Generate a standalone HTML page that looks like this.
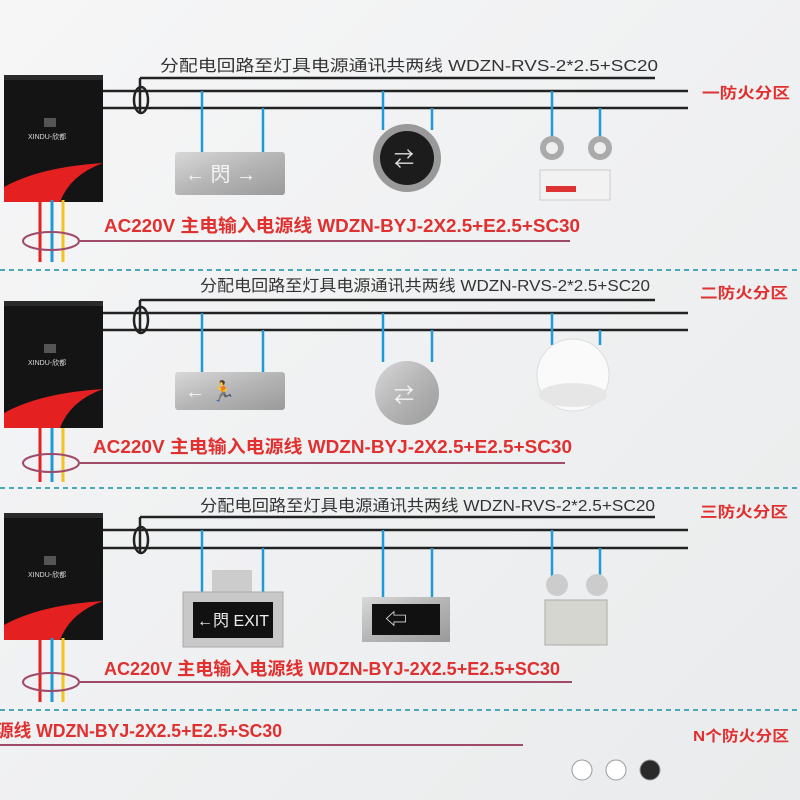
<!DOCTYPE html>
<html><head><meta charset="utf-8"><style>
body{margin:0;width:800px;height:800px;overflow:hidden;background:#eef0f1;font-family:"Liberation Sans","Noto Sans CJK SC",sans-serif}
svg{display:block}
.t{font-size:16px;fill:#333}
.r{font-size:18px;fill:#e03030;font-weight:bold}
.z{font-size:15px;fill:#e03030;font-weight:bold}
</style></head><body>
<svg width="800" height="800" viewBox="0 0 800 800">
<defs>
<linearGradient id="bg" x1="0" y1="0" x2="1" y2="1"><stop offset="0" stop-color="#f6f6f7"/><stop offset="1" stop-color="#e9ebec"/></linearGradient>
<linearGradient id="sil" x1="0" y1="0" x2="1" y2="1"><stop offset="0" stop-color="#d8d8d8"/><stop offset=".5" stop-color="#b5b5b5"/><stop offset="1" stop-color="#9a9a9a"/></linearGradient>
<g id="box">
<rect x="4" y="0" width="99" height="127" fill="#141414"/>
<rect x="4" y="0" width="99" height="5" fill="#2a2a2a"/>
<rect x="44" y="43" width="12" height="9" fill="#555"/>
<text x="28" y="64" font-size="7" fill="#ddd">XINDU-欣都</text>
<path d="M4 127 L4 112 Q40 92 103 88 Q70 100 60 127 Z" fill="#e52020"/>
</g>
</defs>
<rect width="800" height="800" fill="url(#bg)"/>

<!-- Section 1 -->
<text class="t" x="160" y="71" textLength="498" lengthAdjust="spacingAndGlyphs">分配电回路至灯具电源通讯共两线 WDZN-RVS-2*2.5+SC20</text>
<g stroke="#222" stroke-width="2.5" fill="none">
<line x1="140" y1="78" x2="655" y2="78"/><line x1="140" y1="78" x2="140" y2="112"/>
<line x1="103" y1="91" x2="688" y2="91"/><line x1="103" y1="108" x2="688" y2="108"/>
<ellipse cx="141" cy="100" rx="7" ry="13"/>
</g>
<use href="#box" y="75"/>
<g stroke="#1e9ad6" stroke-width="2.5"><line x1="202" y1="91" x2="202" y2="152"/><line x1="263" y1="108" x2="263" y2="152"/><line x1="383" y1="91" x2="383" y2="130"/><line x1="432" y1="108" x2="432" y2="130"/><line x1="552" y1="91" x2="552" y2="137"/><line x1="600" y1="108" x2="600" y2="137"/></g>
<rect x="175" y="152" width="110" height="43" rx="3" fill="url(#sil)"/><text x="185" y="181" font-size="20" fill="#f4f4f4">← 閃 →</text>
<circle cx="407" cy="158" r="34" fill="#999"/><circle cx="407" cy="158" r="27" fill="#1c1c1c"/><text x="394" y="166" font-size="20" fill="#ddd">⇄</text>
<circle cx="552" cy="148" r="12" fill="#aaa"/><circle cx="552" cy="148" r="6" fill="#eee"/><circle cx="600" cy="148" r="12" fill="#aaa"/><circle cx="600" cy="148" r="6" fill="#eee"/>
<rect x="540" y="170" width="70" height="30" fill="#f2f2f2" stroke="#ccc"/><rect x="546" y="186" width="30" height="6" fill="#d33"/>
<text class="r" x="104" y="232" textLength="476" lengthAdjust="spacingAndGlyphs">AC220V 主电输入电源线 WDZN-BYJ-2X2.5+E2.5+SC30</text>
<line x1="80" y1="241" x2="570" y2="241" stroke="#a04a6a" stroke-width="2"/>
<g stroke-width="3"><line x1="40" y1="200" x2="40" y2="262" stroke="#e52020"/><line x1="52" y1="200" x2="52" y2="262" stroke="#1e9ad6"/><line x1="63" y1="200" x2="63" y2="262" stroke="#f3c321"/></g>
<ellipse cx="51" cy="241" rx="28" ry="9" fill="none" stroke="#a04a6a" stroke-width="2"/>
<text class="z" x="702" y="98" textLength="88" lengthAdjust="spacingAndGlyphs">一防火分区</text>
<line x1="0" y1="270" x2="800" y2="270" stroke="#4aa8b8" stroke-width="2" stroke-dasharray="5,4"/>

<!-- Section 2 -->
<text class="t" x="200" y="291" textLength="450" lengthAdjust="spacingAndGlyphs">分配电回路至灯具电源通讯共两线 WDZN-RVS-2*2.5+SC20</text>
<g stroke="#222" stroke-width="2.5" fill="none">
<line x1="140" y1="300" x2="655" y2="300"/><line x1="140" y1="300" x2="140" y2="334"/>
<line x1="103" y1="313" x2="688" y2="313"/><line x1="103" y1="330" x2="688" y2="330"/>
<ellipse cx="141" cy="320" rx="7" ry="13"/>
</g>
<use href="#box" y="301"/>
<g stroke="#1e9ad6" stroke-width="2.5"><line x1="202" y1="313" x2="202" y2="372"/><line x1="263" y1="330" x2="263" y2="372"/><line x1="383" y1="313" x2="383" y2="362"/><line x1="432" y1="330" x2="432" y2="362"/><line x1="552" y1="313" x2="552" y2="345"/><line x1="600" y1="330" x2="600" y2="345"/></g>
<rect x="175" y="372" width="110" height="38" rx="3" fill="url(#sil)"/><text x="185" y="398" font-size="20" fill="#f4f4f4">← 🏃 </text>
<circle cx="407" cy="393" r="32" fill="url(#sil)"/><text x="394" y="402" font-size="20" fill="#f4f4f4">⇄</text>
<ellipse cx="573" cy="375" rx="36" ry="36" fill="#fafafa" stroke="#ddd"/><ellipse cx="573" cy="395" rx="34" ry="12" fill="#e6e6e6"/>
<text class="r" x="93" y="453" textLength="479" lengthAdjust="spacingAndGlyphs">AC220V 主电输入电源线 WDZN-BYJ-2X2.5+E2.5+SC30</text>
<line x1="80" y1="463" x2="565" y2="463" stroke="#a04a6a" stroke-width="2"/>
<g stroke-width="3"><line x1="40" y1="428" x2="40" y2="482" stroke="#e52020"/><line x1="52" y1="428" x2="52" y2="482" stroke="#1e9ad6"/><line x1="63" y1="428" x2="63" y2="482" stroke="#f3c321"/></g>
<ellipse cx="51" cy="463" rx="28" ry="9" fill="none" stroke="#a04a6a" stroke-width="2"/>
<text class="z" x="700" y="298" textLength="88" lengthAdjust="spacingAndGlyphs">二防火分区</text>
<line x1="0" y1="488" x2="800" y2="488" stroke="#4aa8b8" stroke-width="2" stroke-dasharray="5,4"/>

<!-- Section 3 -->
<text class="t" x="200" y="511" textLength="455" lengthAdjust="spacingAndGlyphs">分配电回路至灯具电源通讯共两线 WDZN-RVS-2*2.5+SC20</text>
<g stroke="#222" stroke-width="2.5" fill="none">
<line x1="140" y1="517" x2="655" y2="517"/><line x1="140" y1="517" x2="140" y2="552"/>
<line x1="103" y1="530" x2="688" y2="530"/><line x1="103" y1="548" x2="688" y2="548"/>
<ellipse cx="141" cy="540" rx="7" ry="13"/>
</g>
<use href="#box" y="513"/>
<g stroke="#1e9ad6" stroke-width="2.5"><line x1="202" y1="530" x2="202" y2="592"/><line x1="263" y1="548" x2="263" y2="592"/><line x1="383" y1="530" x2="383" y2="597"/><line x1="432" y1="548" x2="432" y2="597"/><line x1="552" y1="530" x2="552" y2="580"/><line x1="600" y1="548" x2="600" y2="580"/></g>
<rect x="212" y="570" width="40" height="22" fill="#ccc"/>
<rect x="183" y="592" width="100" height="55" fill="#c8c8c8" stroke="#aaa"/><rect x="193" y="602" width="80" height="36" fill="#111"/><text x="197" y="626" font-size="16" fill="#eee">←閃 EXIT</text>
<rect x="362" y="597" width="88" height="45" fill="url(#sil)"/><rect x="372" y="604" width="68" height="31" fill="#111"/><text x="385" y="627" font-size="22" fill="#ddd">⇦</text>
<circle cx="557" cy="585" r="11" fill="#ccc"/><circle cx="597" cy="585" r="11" fill="#ccc"/>
<rect x="545" y="600" width="62" height="45" fill="#d6d6d0" stroke="#aaa"/>
<text class="r" x="104" y="675" textLength="456" lengthAdjust="spacingAndGlyphs">AC220V 主电输入电源线 WDZN-BYJ-2X2.5+E2.5+SC30</text>
<line x1="80" y1="682" x2="572" y2="682" stroke="#a04a6a" stroke-width="2"/>
<g stroke-width="3"><line x1="40" y1="638" x2="40" y2="702" stroke="#e52020"/><line x1="52" y1="638" x2="52" y2="702" stroke="#1e9ad6"/><line x1="63" y1="638" x2="63" y2="702" stroke="#f3c321"/></g>
<ellipse cx="51" cy="682" rx="28" ry="9" fill="none" stroke="#a04a6a" stroke-width="2"/>
<text class="z" x="700" y="517" textLength="88" lengthAdjust="spacingAndGlyphs">三防火分区</text>
<line x1="0" y1="710" x2="800" y2="710" stroke="#4aa8b8" stroke-width="2" stroke-dasharray="5,4"/>

<!-- Section 4 -->
<text class="r" x="-4" y="737" textLength="286" lengthAdjust="spacingAndGlyphs">源线 WDZN-BYJ-2X2.5+E2.5+SC30</text>
<line x1="0" y1="745" x2="523" y2="745" stroke="#a04a6a" stroke-width="2"/>
<text class="z" x="693" y="741" textLength="96" lengthAdjust="spacingAndGlyphs">N个防火分区</text>
<circle cx="582" cy="770" r="10" fill="#fff" stroke="#999"/>
<circle cx="616" cy="770" r="10" fill="#fff" stroke="#999"/>
<circle cx="650" cy="770" r="10" fill="#2a2a2a" stroke="#999"/>
</svg>
</body></html>
